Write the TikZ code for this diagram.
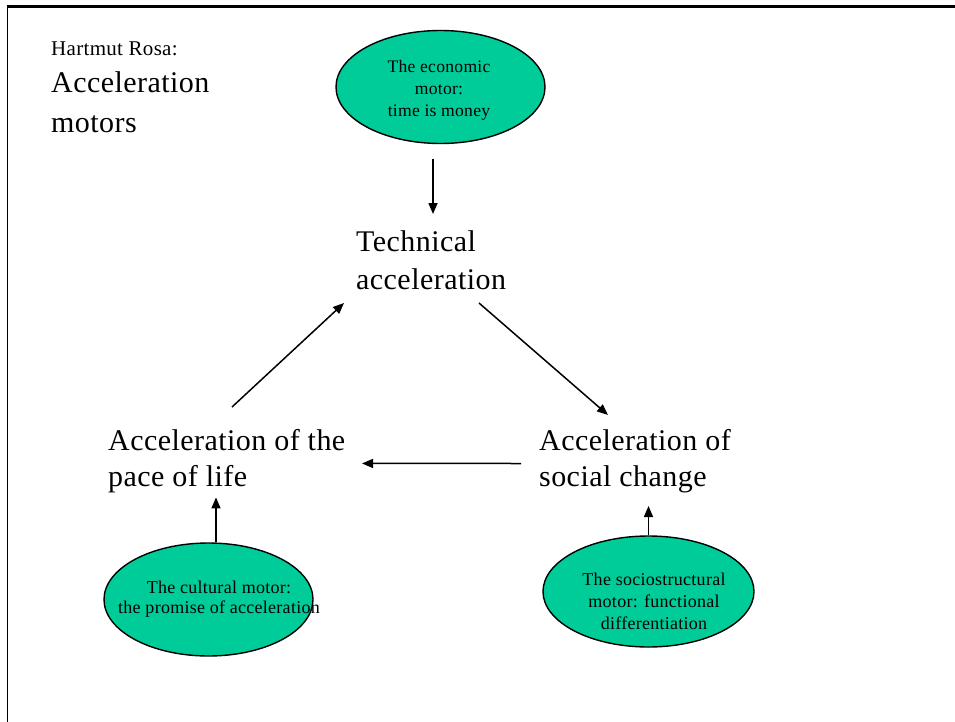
\documentclass[tikz,border=0pt]{standalone}
\usepackage{fontspec}
\setmainfont{Liberation Serif}[LetterSpace=1.5]
\usetikzlibrary{shapes.geometric,arrows.meta}
\definecolor{motorgreen}{RGB}{0,204,153}
\begin{document}
\begin{tikzpicture}[x=1pt,y=-1pt,
  big/.style={inner sep=0pt, anchor=north west, align=left, font=\fontsize{30}{36}\selectfont},
  motor/.style={ellipse, draw, line width=1.4pt, fill=motorgreen, minimum width=209pt, minimum height=113pt, inner sep=0pt},
  motortext/.style={inner sep=0pt, anchor=north, align=center, font=\fontsize{18}{22}\selectfont},
  arr/.style={line width=1.5pt, -{Triangle[length=11pt,width=9pt]}}]
\useasboundingbox (0,0) rectangle (955,722);
\fill[white] (0,0) rectangle (955,722);
\draw[line width=1.6pt] (7.5,722) -- (7.5,6.5);
\draw[line width=2.2pt] (6.7,6.5) -- (955,6.5);
% title
\node[inner sep=0pt, anchor=north west, font=\fontsize{21}{25}\selectfont] (author) at (51,41.7) {Hartmut Rosa:};
\node[big, font=\fontsize{30}{40}\selectfont] (title) at (51,71.5) {Acceleration\\motors};
% motors
\node[motor] (econ) at (440.5,87) {};
\node[motor] (cult) at (208.5,599.5) {};
\node[motor, minimum height=111pt, minimum width=211pt] (socio) at (648.5,591.5) {};
\node[motortext, font=\fontsize{17.6}{22}\selectfont] (econtext) at (439,59.7) {The economic\\motor:\\time is money};
\node[motortext, font=\fontsize{18}{20.5}\selectfont] (culttext) at (219,580.7) {The cultural motor:\\the promise of acceleration};
\node[motortext] (sociotext) at (654,572.7) {The sociostructural\\motor: functional\\differentiation};
% main labels
\node[big, font=\fontsize{30}{38}\selectfont] (tech) at (356,230.5) {Technical\\acceleration};
\node[big] (pace) at (108,429.5) {Acceleration of the\\pace of life};
\node[big] (social) at (539,429.5) {Acceleration of\\social change};
% connectors
\draw[arr] ([xshift=-7.5pt,yshift=-15pt]econ.south) -- ([xshift=-7.5pt,yshift=16.5pt]econ.south |- tech.north);
\draw[arr] ([xshift=124pt,yshift=22.5pt]pace.north west) -- ([xshift=-12pt,yshift=-13pt]tech.south west);
\draw[arr] ([xshift=123pt,yshift=-13pt]tech.south west) -- ([xshift=69pt,yshift=14.5pt]social.north west);
\draw[arr] ([xshift=-18pt,yshift=-2pt]social.west) -- ([xshift=254pt,yshift=-2pt]pace.west);
\draw[arr] ([xshift=7.5pt]cult.north) -- ([xshift=7.5pt,yshift=-4pt]cult.north |- pace.south);
\draw[arr] (socio.north) -- ([yshift=-12.5pt]socio.north |- social.south);
\end{tikzpicture}
\end{document}
